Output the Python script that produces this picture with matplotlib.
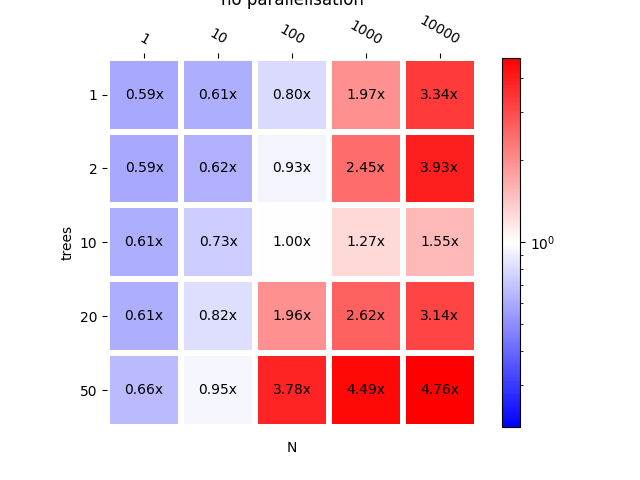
import numpy as np
import matplotlib
matplotlib.use("Agg")
import matplotlib.pyplot as plt
from matplotlib.colors import LogNorm

n_labels = ["1", "10", "100", "1000", "10000"]
tree_labels = ["1", "2", "10", "20", "50"]
speedup = [
    [0.59, 0.61, 0.80, 1.97, 3.34],
    [0.59, 0.62, 0.93, 2.45, 3.93],
    [0.61, 0.73, 1.00, 1.27, 1.55],
    [0.61, 0.82, 1.96, 2.62, 3.14],
    [0.66, 0.95, 3.78, 4.49, 4.76],
]

data = np.array(speedup)
vmax = data.max()
norm = LogNorm(vmin=1 / vmax, vmax=vmax)

fig, ax = plt.subplots(figsize=(6.4, 4.8), dpi=100)
mesh = ax.pcolormesh(data, cmap="bwr", norm=norm, edgecolors="white", linewidth=3)
ax.set_aspect("equal")
ax.set_xlim(0, data.shape[1])
ax.set_ylim(data.shape[0], 0)
for s in ax.spines.values():
    s.set_visible(False)

for i in range(data.shape[0]):
    for j in range(data.shape[1]):
        ax.text(j + 0.5, i + 0.5, f"{data[i, j]:.2f}x", ha="center", va="center",
                color="black", fontsize=10)

ax.xaxis.tick_top()
ax.set_xticks(np.arange(data.shape[1]) + 0.5)
ax.set_xticklabels(n_labels, rotation=-30, ha="center")
ax.set_yticks(np.arange(data.shape[0]) + 0.5)
ax.set_yticklabels(tree_labels)
ax.set_xlabel("N", labelpad=10)
ax.set_ylabel("trees")
ax.set_title("no parallelisation")

fig.colorbar(mesh, ax=ax)
fig.savefig("out.png", dpi=100)
